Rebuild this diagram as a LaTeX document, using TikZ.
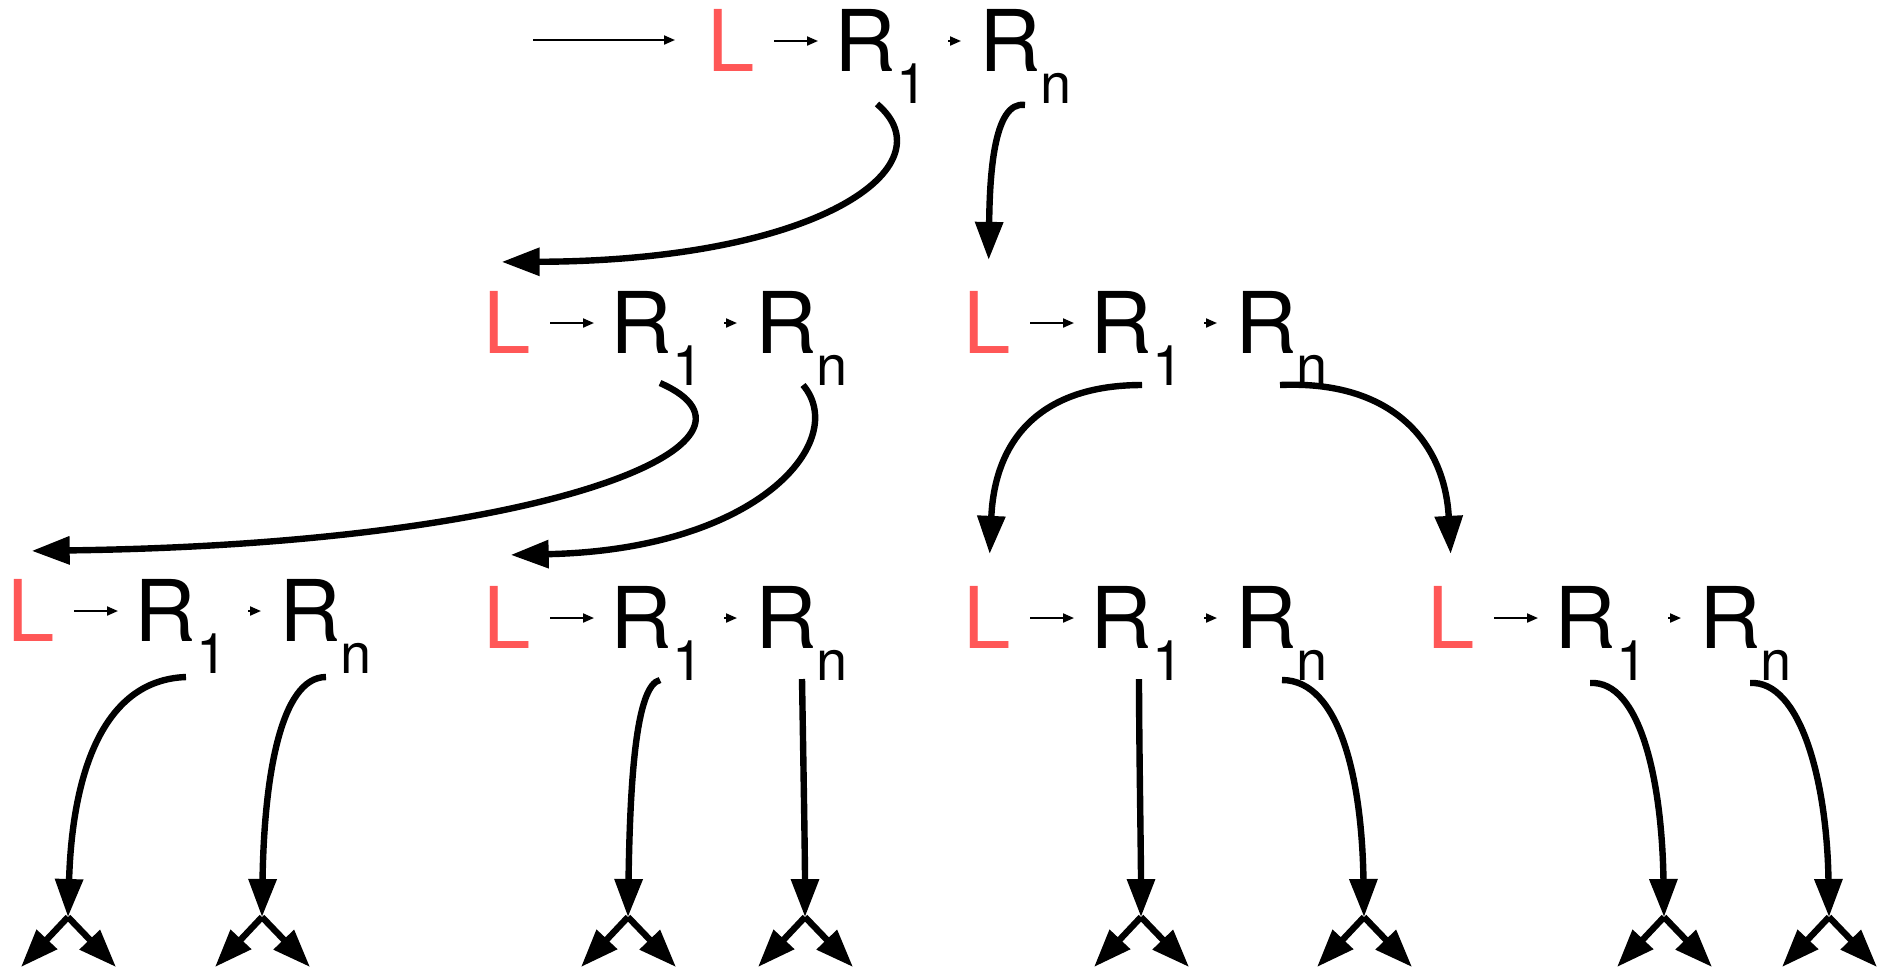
\documentclass[tikz,border=0pt]{standalone}
\usepackage{fontspec}
\setmainfont{TeX Gyre Heros}
\usetikzlibrary{arrows.meta,calc}
\definecolor{lred}{RGB}{255,87,87}
\newcommand{\bigfnt}{\fontsize{42.6pt}{50pt}\selectfont}
\newcommand{\subfnt}{\fontsize{28pt}{34pt}\selectfont}
\tikzset{
  txt/.style={anchor=base west, inner sep=0pt, outer sep=0pt, font=\bigfnt},
  subtxt/.style={anchor=base west, inner sep=0pt, outer sep=0pt, font=\subfnt},
  thinarr/.style={line width=1pt, -{Triangle[length=5.5pt,width=4.5pt]}},
  bigarr/.style={line width=3.2pt, -{Triangle[length=19pt,width=13.5pt]}},
  rulegroup/.pic={
    \node[txt, text=lred] (-L) at (-6,0) {L};
    \node[txt] (-R1) at (121,0) {R};
    \node[subtxt] (-s1) at (183,32) {1};
    \node[txt] (-Rn) at (266,0) {R};
    \node[subtxt] (-sn) at (327,32) {n};
    \draw[thinarr] ([xshift=10pt,yshift=15pt]-L.base east) -- ([xshift=-8pt,yshift=15pt]-R1.base west);
    \draw[thinarr] ([xshift=-15.5pt,yshift=15pt]-Rn.base west) -- ([xshift=-9pt,yshift=15pt]-Rn.base west);
  }
}
\begin{document}
\begin{tikzpicture}[x=0.5pt, y=-0.5pt]
\useasboundingbox (0,0) rectangle (1877,971);
% rule groups
\pic (T) at (713,71) {rulegroup};
\pic (A) at (489,353) {rulegroup};
\pic (B) at (969,353) {rulegroup};
\pic (C1) at (13,641) {rulegroup};
\pic (C2) at (489,648) {rulegroup};
\pic (C3) at (969,648) {rulegroup};
\pic (C4) at (1433,648) {rulegroup};
% entry arrow
\coordinate (in) at (533,40);
\draw[thinarr] (in) -- ([xshift=-16pt,yshift=15.5pt]T-L.base west);
% level 0 -> 1
\draw[bigarr] ($(T-s1.base west)+(-19,1)$) .. controls +(73,62) and +(318,-1) .. ($(A-L.north)+(-5,-29)$);
\draw[bigarr] ($(T-sn.base west)+(-15,2)$) .. controls +(-32,-5) and +(1,-81) .. ($(B-L.north)+(2,-31)$);
% level 1 -> 2
\draw[bigarr] ($(A-s1.base west)+(-12,-2)$) .. controls +(130,57) and +(528,-7) .. ($(C1-L.north)+(1,-28)$);
\draw[bigarr] ($(A-sn.base west)+(-13,0)$) .. controls +(47,55) and +(249,-5) .. ($(C2-L.north)+(4,-31)$);
\draw[bigarr] ($(B-s1.base west)+(-10,0)$) .. controls +(-102,0) and +(5,-114) .. ($(C3-L.north)+(3,-32)$);
\draw[bigarr] ($(B-sn.base west)+(-16,0)$) .. controls +(110,-5) and +(-6,-114) .. ($(C4-L.north)+(0,-32)$);
% forks
\foreach \i/\xx in {1/68,2/262,3/628,4/805,5/1141,6/1364,7/1664,8/1829}{
  \coordinate (fk\i) at (\xx,917);
  \draw[bigarr] (fk\i) -- +(-47,50);
  \draw[bigarr] (fk\i) -- +(48,50);
}
% level 2 -> forks
\draw[bigarr] ($(C1-s1.base west)+(-10,4)$) .. controls +(-86,3) and +(4,-137) .. (fk1);
\draw[bigarr] ($(C1-sn.base west)+(-14,4)$) .. controls +(-46,0) and +(2,-137) .. (fk2);
\draw[bigarr] ($(C2-s1.base west)+(-12,0)$) .. controls +(-24,5) and +(2,-137) .. (fk3);
\draw[bigarr] ($(C2-sn.base west)+(-14,-1)$) .. controls +(1,60) and +(0,-60) .. (fk4);
\draw[bigarr] ($(C3-s1.base west)+(-13,-1)$) .. controls +(0,60) and +(0,-60) .. (fk5);
\draw[bigarr] ($(C3-sn.base west)+(-14,0)$) .. controls +(58,0) and +(-2,-137) .. (fk6);
\draw[bigarr] ($(C4-s1.base west)+(-26,3)$) .. controls +(50,-3) and +(-2,-137) .. (fk7);
\draw[bigarr] ($(C4-sn.base west)+(-10,3)$) .. controls +(50,-3) and +(-2,-137) .. (fk8);
\end{tikzpicture}
\end{document}
